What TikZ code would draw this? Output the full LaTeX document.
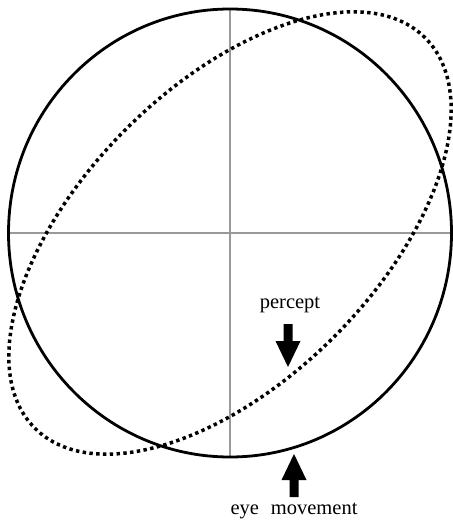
\documentclass[tikz,border=0pt]{standalone}
\usepackage{fontspec}
\setmainfont{Liberation Serif}
\begin{document}
\begin{tikzpicture}[x=1pt,y=-1pt,
  outline/.style={line width=2.8pt,black},
  axisline/.style={line width=1.6pt,black!40},
  dotline/.style={line width=3.5pt,black,dash pattern=on 3.4pt off 3.4pt},
  label/.style={font=\fontsize{20.5}{22}\selectfont,inner sep=0pt},
  blockarrow/.style={fill=black,draw=none}]
\useasboundingbox[fill=white] (0,0) rectangle (452,526);
\coordinate (c) at (230,233);
\coordinate (top) at (230,8);
\coordinate (bot) at (230,457);
\coordinate (lft) at (8,233);
\coordinate (rgt) at (451,233);
\draw[axisline] (top) -- (bot);
\draw[axisline] (lft) -- (rgt);
\draw[outline] (c) ellipse [x radius=221.5pt, y radius=224pt];
\draw[dotline, rotate around={45:(c)}] (c) ellipse [x radius=276pt, y radius=147pt];
\node[label] (percept) at (290,305) {percept};
\node[label] (eye) at (294,511) {eye\,\, movement};
\coordinate (ptip) at (288,367);
\coordinate (etip) at (294,454);
\fill[blockarrow] (ptip) -- ++(12.5,-26) -- ++(-8,0) -- ++(0,-17) -- ++(-9,0) -- ++(0,17) -- ++(-8,0) -- cycle;
\fill[blockarrow] (etip) -- ++(12.5,26) -- ++(-8,0) -- ++(0,17) -- ++(-9,0) -- ++(0,-17) -- ++(-8,0) -- cycle;
\end{tikzpicture}
\end{document}
